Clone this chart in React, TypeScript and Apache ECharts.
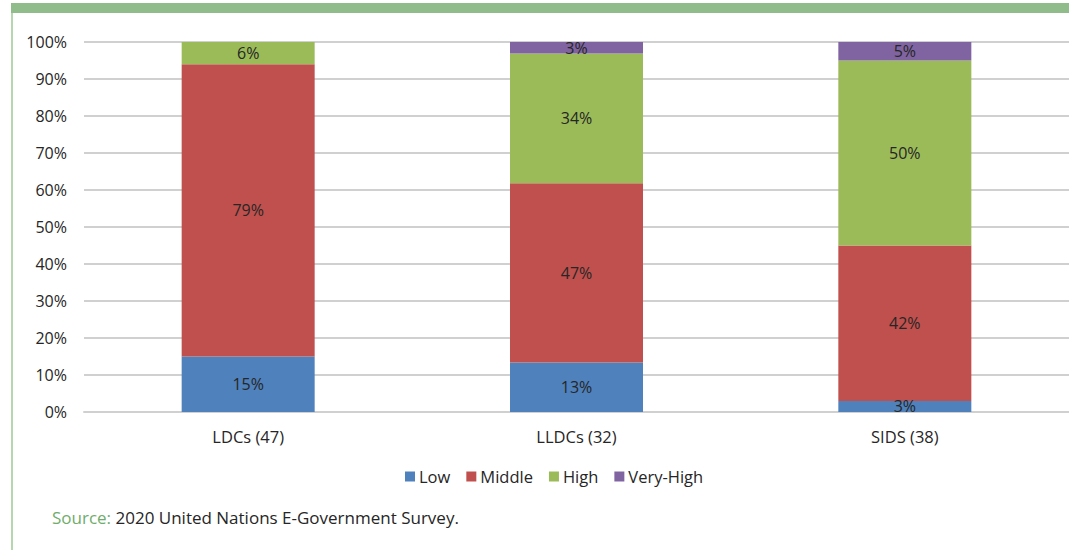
import React, { useEffect, useRef } from "react";
import * as echarts from "echarts";

const categories = ["LDCs (47)", "LLDCs (32)", "SIDS (38)"];
const seriesNames = ["Low", "Middle", "High", "Very-High"];
const lowValues = [15, 13, 3];
const middleValues = [79, 47, 42];
const highValues = [6, 34, 50];
const veryHighValues = [0, 3, 5];
const yTicks = [0, 10, 20, 30, 40, 50, 60, 70, 80, 90, 100];
const colors = ["#4f81bd", "#c0504d", "#9bbb59", "#8064a2"];

const FONT = "'Open Sans', 'Noto Sans', sans-serif";

export default function App() {
  const ref = useRef<HTMLDivElement>(null);
  useEffect(() => {
    document.body.style.margin = "0";
    if (!ref.current) return;
    const chart = echarts.init(ref.current, undefined, { renderer: "svg" });
    const raw = [lowValues, middleValues, highValues, veryHighValues];
    const totals = categories.map((_, i) => raw.reduce((s, arr) => s + arr[i], 0));
    const series = raw.map((arr, si) => ({
      name: seriesNames[si],
      type: "bar",
      stack: "total",
      barWidth: 133,
      itemStyle: { color: colors[si] },
      data: arr.map((v, i) => ({ value: (v / totals[i]) * 100, raw: v })),
      label: {
        show: true,
        position: "inside",
        color: "#262626",
        fontFamily: FONT,
        fontSize: 16,
        formatter: (p: any) => (p.data.raw > 0 ? p.data.raw + "%" : ""),
      },
    }));
    chart.setOption({
      animation: false,
      grid: { left: 84, top: 42, width: 988, height: 370, containLabel: false },
      xAxis: {
        type: "category",
        data: categories,
        axisLine: { show: true, lineStyle: { color: "#d0d0d0", width: 2 } },
        axisTick: { show: false },
        axisLabel: { color: "#262626", fontFamily: FONT, fontSize: 16.5, margin: 16 },
      },
      yAxis: {
        type: "value",
        min: yTicks[0],
        max: yTicks[yTicks.length - 1],
        interval: 10,
        axisLine: { show: false },
        axisTick: { show: false },
        splitLine: { lineStyle: { color: "#d0d0d0", width: 2 } },
        axisLabel: {
          color: "#262626",
          fontFamily: FONT,
          fontSize: 16,
          margin: 17,
          formatter: (v: number) => v + "%",
        },
      },
      legend: {
        data: seriesNames,
        left: 400,
        top: 463,
        itemWidth: 10,
        itemHeight: 10,
        itemGap: 16,
        icon: "rect",
        textStyle: { color: "#262626", fontFamily: FONT, fontSize: 16.5, padding: [0, 0, 0, -1] },
      },
      graphic: [
        { type: "rect", shape: { x: 11, y: 3, width: 1058, height: 10 }, style: { fill: "#8fbc8a" } },
        { type: "rect", shape: { x: 11, y: 13, width: 2, height: 537 }, style: { fill: "#b5d6ae" } },
        {
          type: "text",
          x: 52,
          y: 517,
          style: {
            text: "{g|Source:} 2020 United Nations E-Government Survey.",
            fontFamily: FONT,
            fontSize: 17,
            fill: "#262626",
            verticalAlign: "middle",
            rich: { g: { fill: "#70ad6b", fontFamily: FONT, fontSize: 17 } },
          },
        },
      ],
      series,
    });
    return () => chart.dispose();
  }, []);
  return <div ref={ref} style={{ width: 1069, height: 550, position: "absolute", left: 0, top: 0 }} />;
}
